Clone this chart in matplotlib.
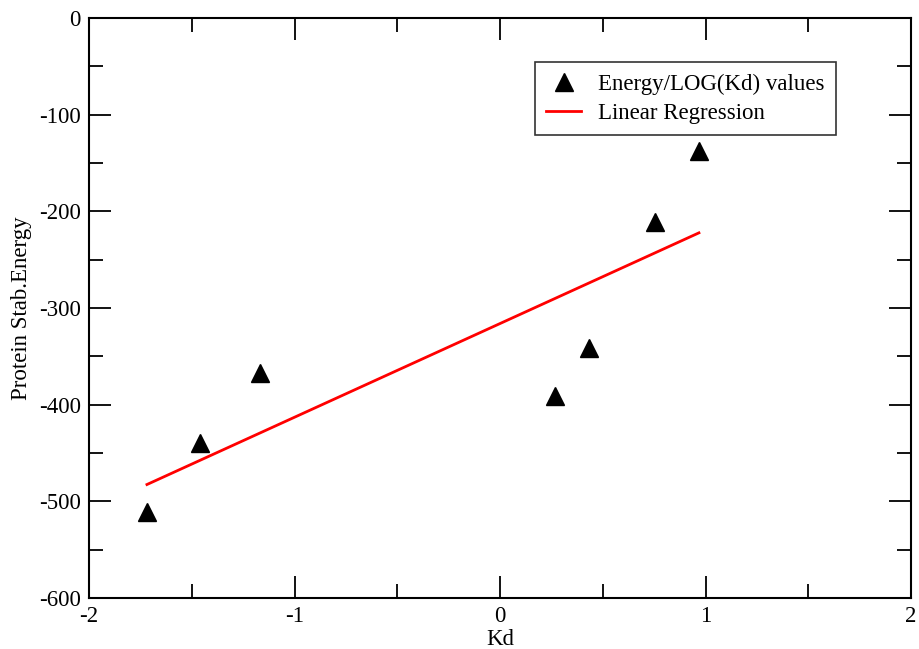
import matplotlib.pyplot as plt
import numpy as np

# Kd (log) vs protein stability energy
kd = [-1.718, -1.46, -1.168, 0.268, 0.433, 0.754, 0.968]
energy = [-511, -440, -367, -391, -341, -211, -138]

slope, intercept = np.polyfit(kd, energy, 1)
x_fit = np.array([min(kd), max(kd)])
y_fit = slope * x_fit + intercept

plt.rcParams['font.family'] = ['Liberation Serif', 'DejaVu Serif']
plt.rcParams['axes.unicode_minus'] = False

fig = plt.figure(figsize=(9.19, 6.49), dpi=100)
ax = fig.add_axes([89 / 919, 1 - 598 / 649, (911 - 89) / 919, (598 - 18) / 649])

ax.plot(kd, energy, linestyle='none', marker='^', color='black', markersize=13,
        label='Energy/LOG(Kd) values')
ax.plot(x_fit, y_fit, color='red', linewidth=2, label='Linear Regression')

ax.set_xlim(-2, 2)
ax.set_ylim(-600, 0)
ax.set_xticks([-2, -1, 0, 1, 2])
ax.set_xticks([-1.5, -0.5, 0.5, 1.5], minor=True)
ax.set_yticks(range(-600, 1, 100))
ax.set_yticks(range(-550, 0, 100), minor=True)
ax.tick_params(which='both', direction='in', top=True, right=True, labelsize=16.5, width=1.3)
ax.tick_params(which='major', length=16)
ax.tick_params(which='minor', length=10)
ax.tick_params(axis='y', pad=6)
ax.tick_params(axis='x', pad=6)
for s in ax.spines.values():
    s.set_linewidth(1.5)

ax.set_xlabel('Kd', fontsize=16.5, labelpad=1)
ax.set_ylabel('Protein Stab.Energy', fontsize=16.5, labelpad=5)

leg = ax.legend(loc='upper right', bbox_to_anchor=(836 / 919, 1 - 62 / 649),
                bbox_transform=fig.transFigure, fontsize=16.5, frameon=True,
                fancybox=False, edgecolor='black', handlelength=1.5,
                handletextpad=0.75, borderaxespad=0, borderpad=0.5,
                labelspacing=0.35)
leg.get_frame().set_linewidth(1.2)

plt.savefig('out.png', dpi=100)
